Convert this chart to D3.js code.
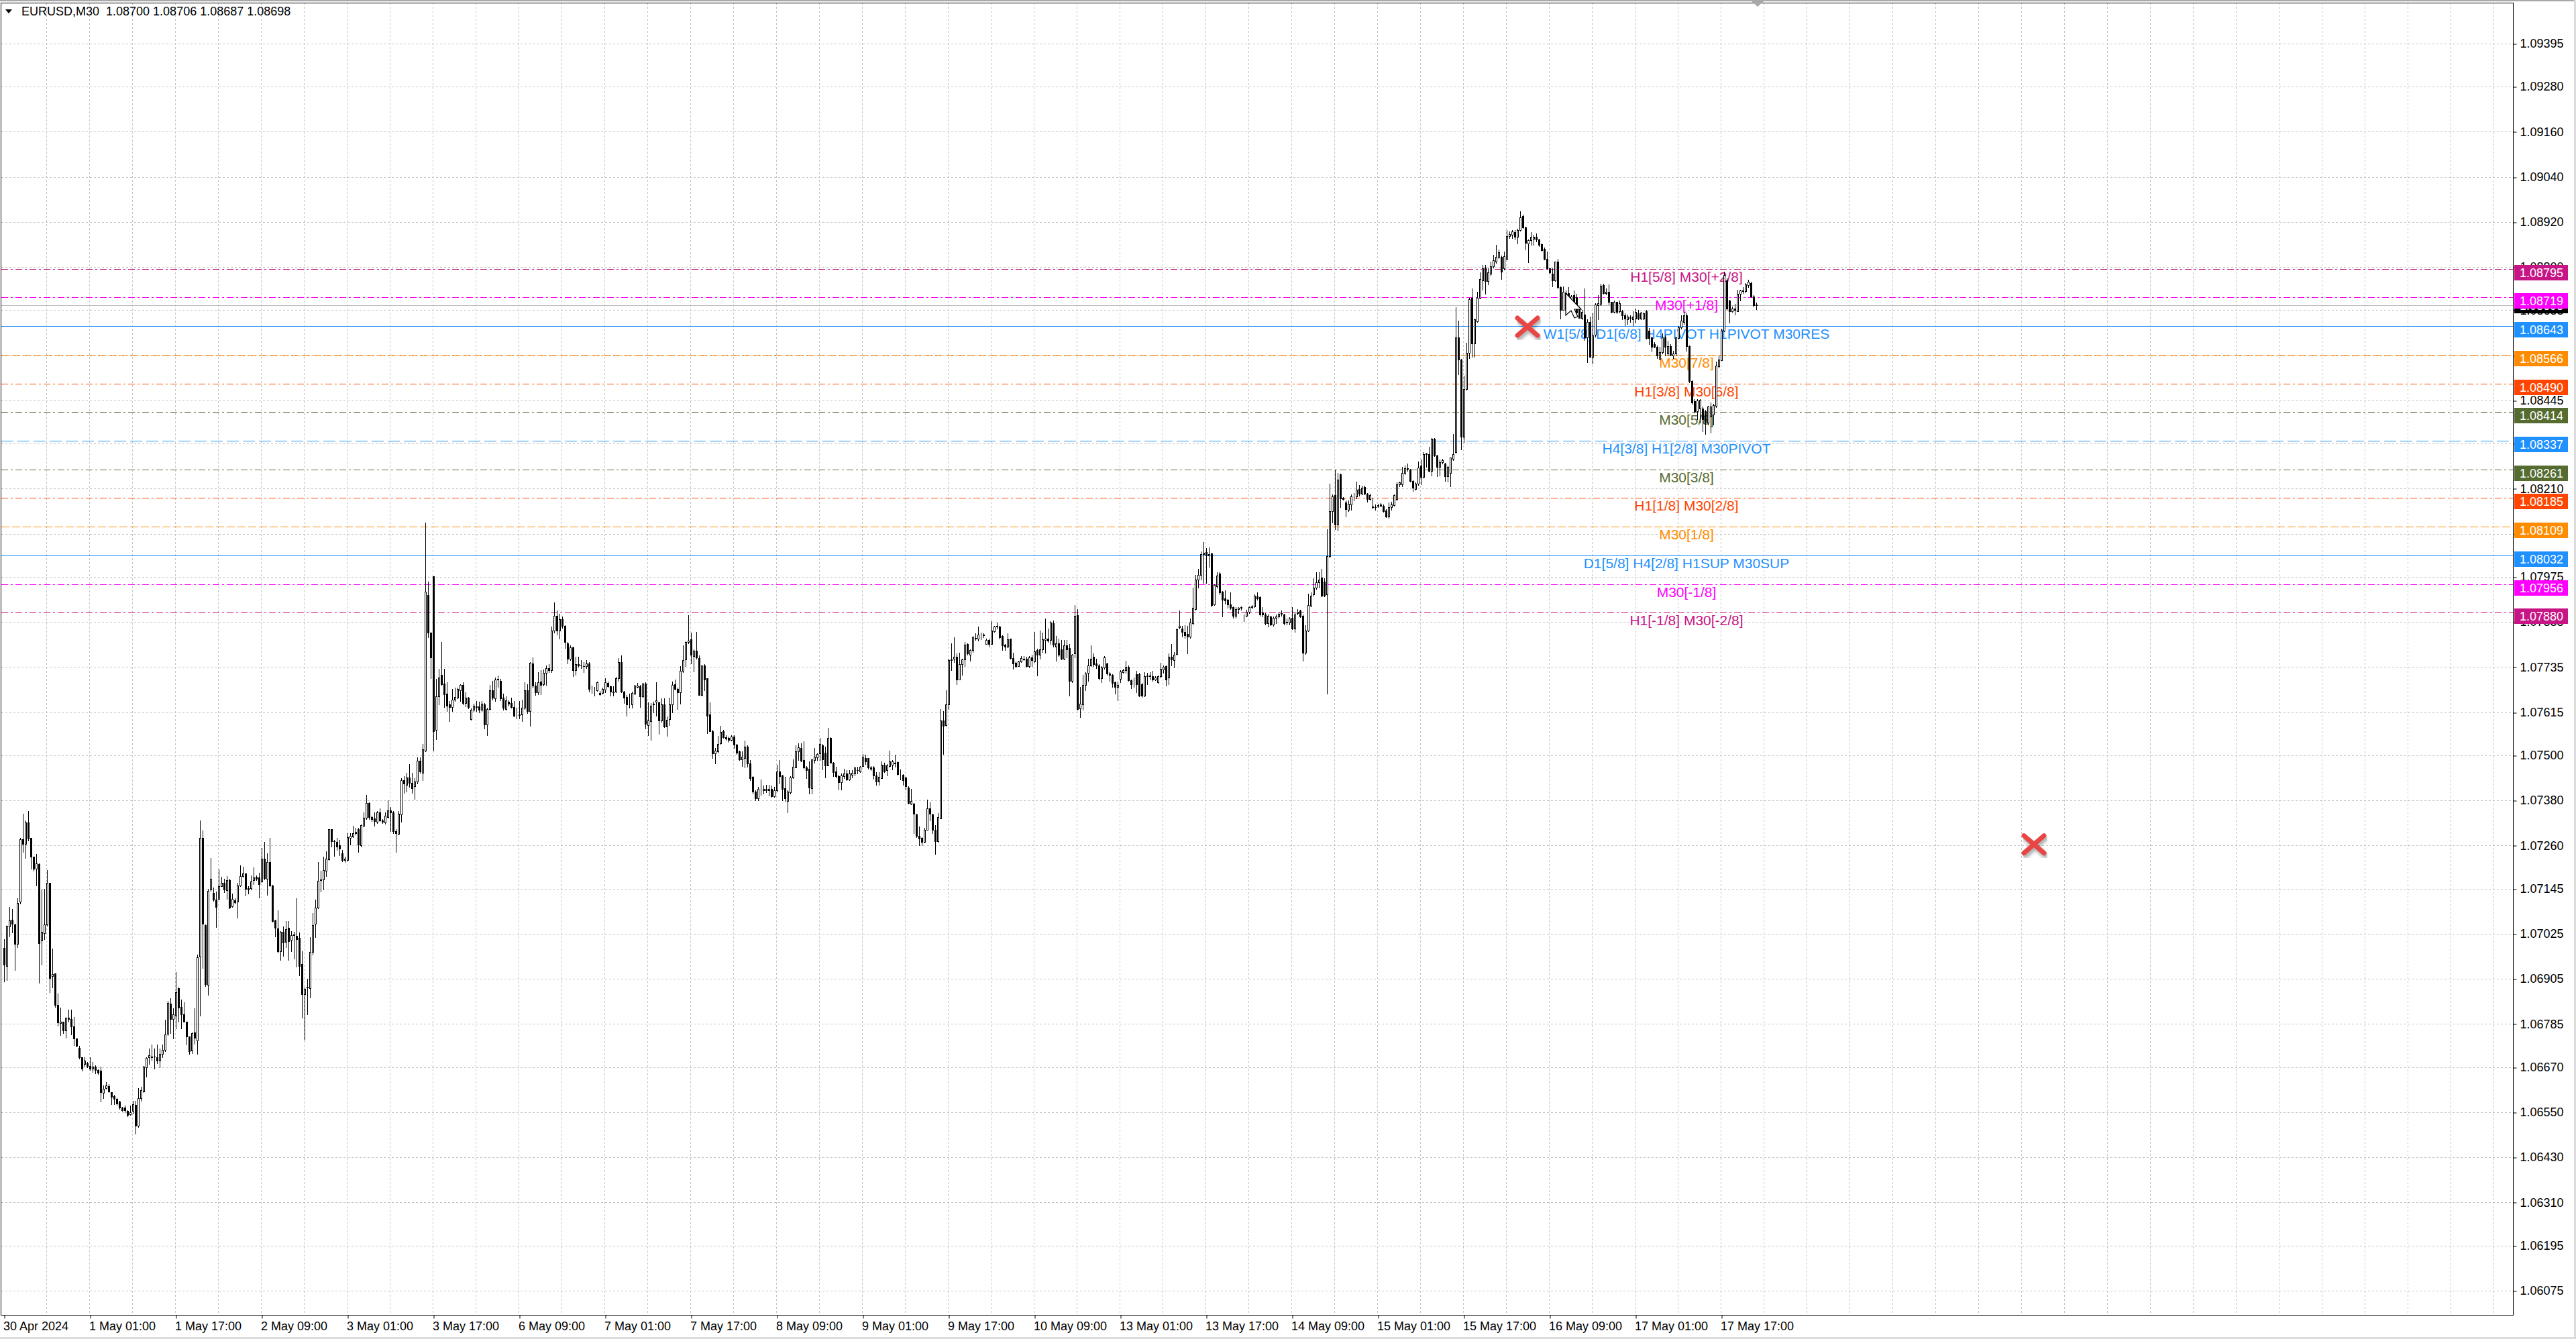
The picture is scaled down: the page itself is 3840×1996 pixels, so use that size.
<!DOCTYPE html>
<html>
<head>
<meta charset="utf-8">
<script src="https://cdn.jsdelivr.net/npm/d3@7"></script>
<style>
  html, body { margin: 0; padding: 0; background: #fff; overflow: hidden; }
  svg { display: block; }
</style>
</head>
<body>
<div id="chart"></div>
<script>
// EURUSD M30, prices in points (1 point = 0.00001)
const opens = [
106987,106940,107044,107062,107050,106999,107111,107277,107265,107322,
107280,107230,107199,107210,107008,107026,107050,107161,106912,106919,
106835,106788,106791,106767,106801,106799,106778,106746,106722,106697,
106679,106681,106674,106666,106672,106663,106661,106602,106615,106619,
106603,106593,106585,106578,106562,106562,106554,106544,106553,106569,
106514,106587,106606,106669,106696,106697,106699,106697,106687,106706,
106716,106759,106840,106798,106808,106880,106831,106810,106791,106752,
106715,106762,106741,106965,107280,107048,106889,107142,107134,107116,
107117,107152,107161,107141,107167,107099,107115,107111,107154,107178,
107185,107146,107146,107168,107176,107175,107165,107225,107171,107216,
107154,107060,107039,106978,107030,107003,107041,107009,107022,107020,
107014,106944,106865,106883,106881,106976,107052,107095,107168,107170,
107193,107223,107303,107272,107269,107260,107239,107221,107221,107280,
107284,107293,107303,107260,107312,107334,107373,107336,107332,107323,
107348,107327,107321,107336,107354,107348,107298,107291,107343,107434,
107421,107441,107427,107418,107430,107485,107453,107512,107926,107826,
107976,107567,107658,107714,107691,107664,107635,107628,107649,107653,
107674,107687,107639,107653,107597,107621,107628,107630,107621,107635,
107582,107624,107674,107651,107701,107699,107654,107624,107642,107639,
107628,107605,107607,107609,107626,107673,107617,107744,107685,107667,
107696,107690,107719,107733,107726,107833,107872,107833,107863,107844,
107799,107758,107787,107726,107742,107740,107738,107737,107744,107675,
107675,107673,107666,107666,107675,107693,107684,107670,107669,107706,
107748,107670,107655,107636,107635,107665,107682,107684,107657,107691,
107580,107591,107637,107642,107641,107592,107636,107577,107596,107635,
107690,107677,107667,107725,107756,107802,107809,107764,107778,107759,
107661,107739,107705,107609,107565,107506,107511,107532,107565,107548,
107547,107541,107550,107529,107510,107490,107493,107524,107478,107442,
107404,107385,107410,107408,107410,107408,107410,107391,107407,107458,
107446,107413,107379,107401,107441,107468,107511,107520,107487,107468,
107464,107413,107488,107494,107505,107526,107508,107474,107547,107481,
107458,107445,107429,107445,107452,107435,107448,107451,107461,107458,
107472,107493,107492,107468,107467,107447,107431,107440,107475,107460,
107472,107475,107478,107482,107451,107448,107441,107415,107371,107371,
107343,107286,107280,107270,107302,107359,107342,107301,107271,107333,
107593,107581,107636,107753,107757,107762,107702,107743,107756,107796,
107768,107781,107813,107810,107822,107822,107797,107807,107797,107831,
107843,107843,107817,107795,107790,107810,107759,107747,107738,107750,
107758,107758,107737,107761,107750,107781,107767,107783,107808,107811,
107808,107851,107790,107799,107783,107758,107792,107786,107698,107771,
107874,107625,107636,107688,107720,107740,107762,107744,107740,107706,
107734,107744,107718,107714,107695,107683,107704,107722,107727,107736,
107700,107690,107716,107716,107689,107659,107710,107710,107710,107702,
107694,107710,107728,107738,107708,107762,107753,107770,107841,107837,
107828,107824,107816,107852,107889,107967,107980,108035,108041,108033,
108037,107902,107950,107984,107936,107917,107914,107902,107894,107871,
107889,107892,107869,107872,107883,107894,107897,107923,107921,107881,
107875,107852,107870,107849,107866,107869,107877,107875,107856,107853,
107866,107837,107878,107885,107872,107774,107833,107898,107928,107946,
107961,107973,107963,107928,108030,108150,108192,108115,108248,108186,
108174,108153,108167,108189,108189,108209,108197,108214,108197,108182,
108163,108161,108164,108168,108165,108152,108136,108161,108166,108182,
108222,108222,108251,108262,108260,108231,108209,108224,108271,108241,
108302,108302,108258,108342,108298,108268,108281,108276,108243,108251,
108290,108308,108612,108554,108349,108475,108571,108717,108596,108655,
108718,108764,108799,108762,108782,108802,108814,108826,108826,108796,
108821,108883,108886,108893,108881,108898,108936,108905,108862,108871,
108875,108881,108873,108861,108849,108821,108796,108782,108764,108814,
108746,108686,108686,108731,108692,108725,108719,108689,108665,108674,
108612,108654,108561,108619,108698,108701,108752,108730,108734,108707,
108680,108707,108683,108683,108671,108660,108666,108660,108663,108677,
108663,108663,108683,108631,108612,108594,108588,108555,108573,108612,
108569,108589,108564,108569,108611,108639,108654,108671,108589,108496,
108442,108416,108424,108424,108416,108386,108401,108407,108430,108536,
108552,108630,108764,108710,108683,108689,108683,108728,108735,108736,
108752,108758,108722,108700]

const highs = [
107011,107046,107096,107091,107052,107119,107280,107344,107326,107351,
107280,107230,107237,107212,107143,107145,107194,107161,106986,106919,
106866,106828,106791,106801,106824,106823,106803,106746,106727,106697,
106696,106684,106696,106684,106675,106665,106672,106621,106630,106625,
106604,106596,106587,106580,106564,106568,106556,106568,106580,106580,
106615,106617,106673,106696,106720,106731,106720,106731,106720,106731,
106797,106847,106853,106827,106923,106883,106850,106843,106791,106752,
106762,106827,106969,107326,107300,107050,107145,107226,107148,107137,
107197,107177,107172,107178,107171,107133,107119,107160,107207,107204,
107186,107151,107181,107201,107180,107187,107254,107270,107240,107280,
107155,107062,107088,107032,107044,107059,107059,107032,107030,107120,
107029,106979,106883,106906,107016,107081,107116,107216,107193,107230,
107245,107303,107303,107275,107280,107275,107248,107230,107293,107293,
107312,107307,107307,107316,107348,107394,107375,107339,107348,107352,
107359,107330,107348,107380,107362,107352,107303,107352,107439,107444,
107453,107476,107453,107439,107494,107494,107530,108119,107963,107826,
107976,107703,107731,107801,107731,107694,107644,107676,107680,107680,
107690,107694,107667,107656,107625,107637,107644,107642,107645,107640,
107626,107688,107699,107708,107712,107703,107664,107658,107646,107653,
107644,107626,107644,107649,107694,107690,107749,107761,107694,107721,
107726,107728,107740,107742,107843,107908,107885,107876,107870,107847,
107801,107792,107790,107762,107762,107753,107749,107753,107749,107685,
107683,107697,107672,107680,107705,107696,107686,107684,107709,107759,
107766,107672,107660,107665,107669,107687,107693,107687,107693,107694,
107641,107639,107642,107694,107642,107651,107651,107603,107653,107696,
107702,107680,107737,107792,107803,107874,107827,107782,107828,107766,
107740,107742,107706,107641,107567,107520,107552,107578,107567,107553,
107550,107553,107553,107531,107512,107511,107540,107526,107487,107444,
107407,107416,107435,107419,107421,107422,107419,107416,107475,107487,
107449,107443,107407,107444,107489,107526,107532,107532,107538,107471,
107484,107490,107520,107506,107546,107530,107523,107574,107548,107483,
107469,107449,107452,107465,107461,107461,107461,107468,107469,107471,
107504,107502,107493,107472,107471,107455,107455,107484,107481,107476,
107512,107487,107502,107484,107463,107450,107443,107417,107411,107374,
107345,107311,107282,107307,107383,107375,107345,107314,107347,107623,
107617,107674,107758,107799,107815,107772,107774,107758,107801,107798,
107783,107817,107825,107842,107826,107825,107811,107811,107857,107845,
107853,107845,107819,107796,107825,107811,107774,107750,107752,107765,
107765,107762,107765,107767,107829,107784,107833,107826,107865,107838,
107857,107859,107817,107811,107808,107808,107808,107796,107770,107900,
107889,107683,107714,107722,107758,107792,107772,107758,107742,107737,
107764,107746,107722,107716,107697,107696,107726,107730,107752,107740,
107702,107707,107725,107720,107692,107722,107719,107722,107725,107711,
107713,107746,107740,107740,107772,107797,107775,107838,107886,107845,
107847,107845,107864,107946,107980,107997,108043,108068,108051,108054,
108039,107955,107987,107987,107938,107940,107916,107934,107896,107894,
107894,107896,107875,107887,107897,107900,107929,107934,107923,107894,
107879,107875,107872,107870,107875,107883,107886,107877,107864,107868,
107894,107883,107889,107887,107875,107847,107931,107934,107972,107988,
107988,107997,107972,108102,108224,108195,108260,108251,108250,108188,
108178,108178,108195,108199,108228,108220,108218,108217,108199,108196,
108186,108167,108169,108171,108167,108155,108174,108175,108195,108226,
108228,108268,108271,108276,108262,108232,108226,108283,108287,108308,
108306,108321,108344,108344,108300,108287,108290,108279,108271,108293,
108355,108692,108658,108556,108511,108599,108717,108742,108662,108734,
108786,108805,108805,108796,108814,108832,108859,108847,108830,108841,
108898,108895,108899,108898,108901,108948,108939,108907,108874,108892,
108885,108889,108875,108863,108851,108841,108799,108796,108815,108821,
108748,108749,108737,108746,108725,108737,108728,108695,108686,108743,
108660,108668,108677,108704,108725,108756,108756,108742,108754,108708,
108710,108708,108710,108686,108677,108674,108671,108683,108689,108686,
108680,108679,108686,108637,108615,108600,108591,108588,108624,108618,
108603,108594,108576,108615,108642,108671,108680,108677,108591,108499,
108448,108448,108448,108429,108419,108430,108439,108436,108549,108564,
108636,108788,108770,108713,108695,108701,108740,108740,108746,108757,
108766,108760,108725,108706]

const lows = [
106898,106901,107017,107029,106929,106990,107105,107243,107226,107273,
107199,107193,107154,106895,106943,107011,107047,106869,106883,106830,
106780,106756,106761,106749,106791,106758,106729,106725,106693,106660,
106672,106670,106663,106657,106654,106652,106578,106588,106613,106603,
106572,106571,106570,106559,106553,106550,106540,106542,106547,106493,
106510,106580,106603,106645,106678,106690,106666,106681,106669,106696,
106713,106755,106760,106746,106773,106791,106774,106791,106731,106705,
106707,106733,106705,106807,106934,106886,106863,107139,107112,107042,
107117,107151,107136,107118,107093,107096,107106,107067,107151,107177,
107126,107133,107142,107157,107168,107121,107163,107169,107129,107151,
107057,107017,106975,106956,106966,106990,106955,106978,106959,106938,
106915,106802,106742,106811,106856,106970,107016,107093,107138,107143,
107179,107221,107257,107232,107248,107234,107218,107216,107219,107262,
107282,107289,107243,107257,107310,107330,107330,107325,107312,107320,
107325,107320,107318,107334,107298,107293,107243,107289,107323,107400,
107403,107416,107400,107384,107425,107453,107434,107510,107815,107706,
107512,107542,107635,107688,107628,107617,107591,107617,107644,107651,
107644,107635,107630,107625,107595,107617,107617,107615,107618,107571,
107553,107621,107649,107644,107682,107647,107621,107621,107633,107626,
107603,107598,107598,107591,107624,107612,107578,107680,107660,107662,
107662,107685,107688,107721,107721,107826,107822,107810,107840,107785,
107744,107754,107710,107715,107735,107733,107721,107733,107669,107666,
107659,107671,107660,107664,107667,107683,107659,107659,107667,107699,
107667,107639,107605,107627,107627,107663,107681,107629,107654,107571,
107553,107541,107615,107606,107558,107590,107575,107552,107580,107615,
107675,107624,107637,107722,107737,107798,107744,107724,107758,107661,
107659,107673,107559,107564,107493,107478,107508,107530,107547,107541,
107535,107540,107520,107504,107488,107472,107467,107469,107434,107398,
107380,107380,107395,107398,107401,107393,107389,107389,107404,107425,
107380,107379,107349,107398,107440,107467,107487,107484,107464,107440,
107398,107398,107481,107487,107487,107462,107441,107473,107480,107444,
107441,107409,107409,107439,107434,107434,107441,107447,107452,107456,
107471,107477,107465,107461,107437,107421,107422,107439,107456,107446,
107469,107462,107469,107448,107436,107421,107409,107371,107369,107293,
107283,107261,107261,107267,107301,107326,107293,107237,107270,107332,
107503,107579,107624,107726,107749,107689,107701,107714,107737,107767,
107752,107775,107808,107805,107809,107815,107796,107790,107796,107829,
107838,107811,107781,107781,107787,107758,107730,107734,107737,107749,
107753,107736,107734,107737,107749,107713,107758,107775,107773,107802,
107796,107790,107752,107764,107756,107756,107761,107659,107694,107761,
107621,107601,107622,107673,107698,107737,107737,107732,107701,107695,
107731,107715,107698,107683,107665,107647,107695,107719,107719,107698,
107678,107682,107667,107658,107656,107658,107689,107701,107698,107700,
107692,107708,107720,107686,107690,107740,107734,107767,107837,107816,
107812,107771,107812,107849,107887,107946,107967,107959,107959,108001,
107896,107900,107946,107929,107870,107904,107892,107889,107866,107866,
107879,107887,107858,107869,107879,107891,107895,107914,107872,107870,
107849,107843,107847,107845,107852,107866,107871,107849,107849,107849,
107835,107828,107875,107868,107752,107769,107831,107896,107925,107942,
107946,107923,107923,107664,108026,108119,108102,108098,108161,108180,
108136,108150,108153,108178,108184,108191,108194,108195,108175,108180,
108157,108153,108161,108162,108148,108134,108132,108153,108164,108178,
108216,108216,108249,108258,108228,108203,108207,108220,108222,108239,
108268,108256,108245,108296,108243,108245,108276,108231,108228,108216,
108285,108306,108515,108315,108334,108473,108557,108561,108561,108653,
108716,108740,108728,108754,108779,108799,108811,108823,108767,108793,
108820,108877,108877,108874,108863,108896,108904,108847,108813,108859,
108859,108868,108856,108843,108819,108795,108782,108748,108762,108742,
108663,108685,108677,108683,108690,108671,108674,108664,108660,108606,
108546,108560,108543,108615,108660,108698,108728,108726,108700,108679,
108679,108677,108678,108660,108645,108648,108654,108645,108651,108660,
108661,108660,108609,108594,108575,108585,108558,108555,108570,108564,
108565,108564,108558,108564,108609,108636,108648,108576,108493,108436,
108413,108395,108386,108362,108356,108380,108359,108380,108427,108532,
108551,108629,108686,108651,108680,108674,108682,108710,108731,108733,
108746,108719,108695,108687]

const closes = [
106943,107046,107060,107052,106999,107107,107277,107265,107321,107279,
107230,107199,107212,107000,107030,107050,107161,106908,106917,106835,
106789,106791,106767,106801,106798,106778,106746,106727,106696,106666,
106688,106674,106666,106672,106663,106655,106603,106613,106621,106605,
106591,106585,106574,106562,106556,106556,106542,106550,106572,106514,
106588,106609,106671,106694,106702,106699,106698,106687,106706,106716,
106758,106841,106798,106810,106869,106828,106810,106791,106752,106712,
106761,106748,106962,107280,107051,106891,107139,107172,107116,107096,
107151,107161,107142,107167,107094,107117,107109,107154,107178,107185,
107145,107143,107164,107175,107171,107158,107225,107174,107216,107154,
107059,107041,106978,107030,107002,107038,107005,107022,107024,107011,
106940,106865,106879,106884,106976,107049,107095,107166,107170,107195,
107225,107303,107272,107271,107257,107252,107221,107225,107282,107286,
107293,107297,107262,107314,107334,107373,107336,107330,107325,107348,
107327,107323,107339,107354,107348,107298,107293,107345,107434,107425,
107441,107427,107412,107430,107485,107457,107516,107935,107826,107760,
107564,107658,107708,107690,107662,107633,107628,107649,107655,107676,
107687,107639,107653,107628,107621,107633,107630,107621,107638,107582,
107624,107674,107653,107701,107703,107651,107626,107646,107637,107628,
107605,107606,107609,107626,107673,107617,107747,107685,107667,107694,
107688,107720,107733,107726,107833,107872,107833,107863,107844,107801,
107758,107787,107726,107742,107740,107739,107737,107744,107676,107675,
107675,107694,107663,107677,107694,107684,107669,107667,107706,107748,
107669,107654,107635,107636,107666,107685,107685,107657,107691,107584,
107593,107633,107635,107647,107592,107635,107577,107595,107635,107687,
107677,107667,107725,107754,107802,107805,107767,107778,107760,107661,
107739,107702,107606,107565,107506,107512,107530,107562,107548,107544,
107541,107550,107529,107508,107490,107496,107524,107478,107439,107403,
107385,107410,107411,107411,107407,107411,107391,107408,107458,107445,
107411,107385,107403,107441,107469,107511,107521,107486,107467,107461,
107415,107489,107496,107504,107530,107490,107474,107547,107481,107456,
107445,107429,107447,107452,107435,107452,107453,107467,107460,107469,
107494,107484,107467,107465,107446,107431,107443,107475,107458,107474,
107484,107484,107481,107450,107451,107434,107417,107373,107378,107344,
107286,107278,107270,107302,107359,107345,107301,107271,107335,107593,
107579,107636,107753,107756,107762,107701,107743,107756,107795,107771,
107781,107815,107811,107822,107822,107819,107807,107797,107833,107843,
107845,107814,107793,107790,107809,107759,107744,107737,107750,107759,
107755,107737,107761,107753,107777,107767,107783,107809,107811,107805,
107854,107795,107799,107767,107758,107792,107783,107698,107768,107872,
107624,107637,107688,107718,107740,107758,107743,107740,107706,107734,
107761,107718,107714,107692,107683,107688,107724,107727,107736,107700,
107690,107690,107689,107659,107659,107710,107712,107713,107702,107708,
107710,107730,107736,107701,107762,107755,107768,107835,107844,107828,
107820,107816,107854,107892,107967,107980,108035,108039,108032,108035,
107900,107953,107978,107934,107914,107913,107902,107892,107872,107889,
107892,107894,107869,107883,107894,107896,107925,107917,107875,107875,
107852,107872,107849,107866,107869,107877,107878,107852,107853,107864,
107837,107875,107882,107870,107774,107833,107900,107925,107946,107961,
107967,107925,107925,108030,108150,108189,108115,108234,108184,108182,
108155,108169,108189,108190,108207,108197,108212,108197,108182,108192,
108161,108160,108166,108164,108150,108136,108161,108168,108192,108222,
108226,108251,108265,108265,108231,108212,108224,108266,108241,108302,
108303,108258,108342,108298,108268,108281,108285,108243,108268,108292,
108302,108612,108554,108349,108475,108571,108714,108596,108661,108718,
108767,108796,108762,108785,108802,108817,108827,108839,108788,108829,
108883,108887,108895,108881,108899,108933,108905,108865,108871,108881,
108881,108873,108859,108845,108821,108796,108785,108764,108814,108746,
108685,108734,108731,108692,108722,108689,108679,108665,108680,108612,
108654,108561,108618,108700,108704,108750,108730,108734,108707,108680,
108707,108680,108704,108671,108663,108668,108665,108668,108680,108663,
108679,108677,108611,108611,108588,108588,108564,108573,108612,108588,
108589,108566,108570,108612,108639,108657,108671,108589,108496,108439,
108416,108445,108446,108395,108386,108429,108429,108433,108538,108554,
108630,108779,108689,108683,108690,108686,108728,108737,108737,108754,
108760,108722,108698,108698]

const timeLabels = ['30 Apr 2024', '1 May 01:00', '1 May 17:00', '2 May 09:00', '3 May 01:00', '3 May 17:00',
  '6 May 09:00', '7 May 01:00', '7 May 17:00', '8 May 09:00', '9 May 01:00', '9 May 17:00', '10 May 09:00',
  '13 May 01:00', '13 May 17:00', '14 May 09:00', '15 May 01:00', '15 May 17:00', '16 May 09:00',
  '17 May 01:00', '17 May 17:00']

const priceTicks = [1.09395, 1.09280, 1.09160, 1.09040, 1.08920, 1.08800, 1.08685, 1.08565, 1.08445, 1.08330,
  1.08210, 1.08090, 1.07975, 1.07855, 1.07735, 1.07615, 1.07500, 1.07380, 1.07260, 1.07145, 1.07025, 1.06905,
  1.06785, 1.06670, 1.06550, 1.06430, 1.06310, 1.06195, 1.06075]

const levelPrices = [1.08795, 1.08719, 1.08643, 1.08566, 1.08490, 1.08414, 1.08337, 1.08261, 1.08185, 1.08109,
  1.08032, 1.07956, 1.07880]
const levelNames = ['H1[5/8] M30[+2/8]', 'M30[+1/8]', 'W1[5/8] D1[6/8] H4PIVOT H1PIVOT M30RES', 'M30[7/8]',
  'H1[3/8] M30[6/8]', 'M30[5/8]', 'H4[3/8] H1[2/8] M30PIVOT', 'M30[3/8]', 'H1[1/8] M30[2/8]', 'M30[1/8]',
  'D1[5/8] H4[2/8] H1SUP M30SUP', 'M30[-1/8]', 'H1[-1/8] M30[-2/8]']

const bidPrice = 1.08698
const headerText = 'EURUSD,M30  1.08700 1.08706 1.08687 1.08698'

const markerBars = [567.75, 756.5]
const markerPrices = [1.08641, 1.07263]

// styles
const levelColors = ['#c71585', '#ff00ff', '#1e90ff', '#ff8c00', '#ff4500', '#556b2f', '#1e90ff', '#556b2f',
  '#ff4500', '#ff8c00', '#1e90ff', '#ff00ff', '#c71585']
const dashDot = '10,4,3,4'
const levelDash = [dashDot, dashDot, null, '12,4', dashDot, dashDot, '18,6', dashDot, dashDot, '12,4', null, dashDot, dashDot]

const width = 3840
const height = 1996
const plotRight = 3746
const plotTop = 4
const plotBottom = 1960
const point = 0.00001
const font = '"Liberation Sans", Arial, sans-serif'

const svg = d3.select('#chart')
  .append('svg')
  .attr('width', width)
  .attr('height', height)
  .style('font-family', font)

svg.append('rect').attr('width', width).attr('height', height).attr('fill', '#fff')
svg.append('rect').attr('width', width).attr('height', 2).attr('fill', '#a8a8a8')
svg.append('rect').attr('x', width - 3).attr('width', 3).attr('height', height).attr('fill', '#dcdcdc')
svg.append('rect').attr('y', height - 3).attr('width', width).attr('height', 3).attr('fill', '#dcdcdc')

// one bar every 4 px
const x = d3.scaleLinear().domain([0, 100]).range([6, 406])
const y = d3.scaleLinear().domain([1.06075, 1.09395]).range([1924, 64.8])
const py = p => Math.round(y(p)) + 0.5

const bars = opens.map((o, i) => ({
  i: i,
  o: o * point,
  h: highs[i] * point,
  l: lows[i] * point,
  c: closes[i] * point
}))

// grid
const grid = svg.append('g')
  .attr('stroke', '#c4c4c4')
  .attr('stroke-dasharray', '3,3')
  .attr('shape-rendering', 'crispEdges')

grid.selectAll('line.hg')
  .data(priceTicks)
  .join('line')
  .attr('class', 'hg')
  .attr('x1', 2).attr('x2', plotRight)
  .attr('y1', d => py(d)).attr('y2', d => py(d))

grid.selectAll('line.vg')
  .data(d3.range(16, 935, 16))
  .join('line')
  .attr('class', 'vg')
  .attr('x1', d => Math.round(x(d)) - 0.5).attr('x2', d => Math.round(x(d)) - 0.5)
  .attr('y1', plotTop).attr('y2', plotBottom)

// level lines
const levels = levelPrices.map((p, i) => ({ p: p, name: levelNames[i], color: levelColors[i], dash: levelDash[i] }))

svg.append('g')
  .attr('shape-rendering', 'crispEdges')
  .selectAll('line')
  .data(levels)
  .join('line')
  .attr('x1', 2).attr('x2', plotRight)
  .attr('y1', d => py(d.p)).attr('y2', d => py(d.p))
  .attr('stroke', d => d.color)
  .attr('stroke-dasharray', d => d.dash)

svg.append('line')
  .attr('x1', 2).attr('x2', plotRight)
  .attr('y1', py(bidPrice)).attr('y2', py(bidPrice))
  .attr('stroke', '#b8b8b8')
  .attr('shape-rendering', 'crispEdges')

svg.append('g')
  .selectAll('text')
  .data(levels)
  .join('text')
  .attr('x', 2514)
  .attr('y', d => y(d.p) + 19)
  .attr('text-anchor', 'middle')
  .attr('font-size', 21)
  .attr('fill', d => d.color)
  .text(d => d.name)

// candles
const candles = svg.append('g').attr('shape-rendering', 'crispEdges')

candles.selectAll('rect.wick')
  .data(bars)
  .join('rect')
  .attr('class', 'wick')
  .attr('x', d => Math.round(x(d.i)))
  .attr('y', d => Math.round(y(d.h)))
  .attr('width', 1)
  .attr('height', d => Math.max(1, Math.round(y(d.l)) - Math.round(y(d.h)) + 1))
  .attr('fill', '#000')

candles.selectAll('rect.down')
  .data(bars.filter(d => d.c < d.o))
  .join('rect')
  .attr('class', 'down')
  .attr('x', d => Math.round(x(d.i)) - 1)
  .attr('y', d => Math.round(y(d.o)))
  .attr('width', 3)
  .attr('height', d => Math.max(1, Math.round(y(d.c)) - Math.round(y(d.o)) + 1))
  .attr('fill', '#000')

candles.selectAll('rect.up')
  .data(bars.filter(d => d.c >= d.o))
  .join('rect')
  .attr('class', 'up')
  .attr('x', d => Math.round(x(d.i)) - 0.5)
  .attr('y', d => Math.round(y(d.c)) + 0.5)
  .attr('width', 2)
  .attr('height', d => Math.max(0, Math.round(y(d.o)) - Math.round(y(d.c))))
  .attr('fill', '#fff')
  .attr('stroke', '#000')

// frame
svg.append('rect')
  .attr('x', 1.5).attr('y', plotTop + 0.5)
  .attr('width', plotRight - 1.5).attr('height', plotBottom - plotTop)
  .attr('fill', 'none')
  .attr('stroke', '#000')
  .attr('shape-rendering', 'crispEdges')

// axes
const yAxis = d3.axisRight(y)
  .tickValues(priceTicks)
  .tickSize(5)
  .tickPadding(5)
  .tickFormat(d3.format('.5f'))

svg.append('g')
  .attr('transform', `translate(${plotRight + 0.5}, 0)`)
  .call(yAxis)
  .call(g => g.select('.domain').remove())
  .attr('font-size', 18)
  .attr('font-family', font)
  .call(g => g.selectAll('line').attr('transform', d => `translate(0, ${py(d) - y(d)})`))

const xAxis = d3.axisBottom(x)
  .tickValues(d3.range(0, timeLabels.length * 32, 32))
  .tickFormat((d, i) => timeLabels[i])
  .tickSize(5)
  .tickPadding(5)

svg.append('g')
  .attr('transform', `translate(0.5, ${plotBottom + 0.5})`)
  .call(xAxis)
  .call(g => g.select('.domain').remove())
  .attr('font-size', 18)
  .attr('font-family', font)
  .call(g => g.selectAll('text').attr('text-anchor', 'start').attr('x', -2))

// price labels at the right edge
const bidBox = svg.append('g')
bidBox.append('rect')
  .attr('x', 3748).attr('y', Math.round(y(bidPrice)) - 11)
  .attr('width', 80).attr('height', 23)
  .attr('fill', '#000')
bidBox.append('text')
  .attr('x', 3756).attr('y', y(bidPrice) + 0.5)
  .attr('dy', '0.35em')
  .attr('font-size', 18)
  .attr('fill', '#fff')
  .text(d3.format('.5f')(bidPrice))

const boxes = svg.append('g')
  .selectAll('g')
  .data(levels)
  .join('g')
  .attr('transform', d => `translate(3748, ${Math.round(y(d.p)) - 6})`)

boxes.append('rect')
  .attr('width', 80).attr('height', 23)
  .attr('fill', d => d.color)

boxes.append('text')
  .attr('x', 8).attr('y', 11.5)
  .attr('dy', '0.35em')
  .attr('font-size', 18)
  .attr('fill', '#fff')
  .text(d => d3.format('.5f')(d.p))

// header
svg.append('path').attr('d', 'M8,14 L18,14 L13,20 Z').attr('fill', '#000')
svg.append('text')
  .attr('x', 32).attr('y', 23)
  .attr('font-size', 18)
  .attr('fill', '#000')
  .attr('xml:space', 'preserve')
  .style('white-space', 'pre')
  .text(headerText)

// chart shift marker
const shiftX = x(bars.length - 1) + 2
svg.append('path')
  .attr('d', `M${shiftX - 9},2 L${shiftX + 9},2 L${shiftX},10 Z`)
  .attr('fill', '#a8a8a8')

// deleted-object markers
const defs = svg.append('defs')
defs.append('filter').attr('id', 'blur')
  .append('feGaussianBlur').attr('stdDeviation', 2)

const markers = svg.append('g')
  .selectAll('g')
  .data(markerBars.map((b, i) => ({ b: b, p: markerPrices[i] })))
  .join('g')
  .attr('transform', d => `translate(${x(d.b)}, ${y(d.p)})`)

const cross = 'M-15,-13 L15,13 M-15,13 L15,-13'
markers.append('path')
  .attr('d', cross)
  .attr('transform', 'translate(2, 4)')
  .attr('stroke', 'rgba(0,0,0,0.3)')
  .attr('stroke-width', 8)
  .attr('stroke-linecap', 'round')
  .attr('filter', 'url(#blur)')
markers.append('path')
  .attr('d', cross)
  .attr('stroke', '#e84545')
  .attr('stroke-width', 7)
  .attr('stroke-linecap', 'round')

// mouse pointer
svg.append('path')
  .attr('d', 'M0,0 L0,33 L8,26 L13,37 L18,35 L13,24 L23,24 Z')
  .attr('transform', 'translate(2334, 437)')
  .attr('fill', '#fff')
  .attr('stroke', '#000')
  .attr('stroke-width', 1.2)
</script>
</body>
</html>
